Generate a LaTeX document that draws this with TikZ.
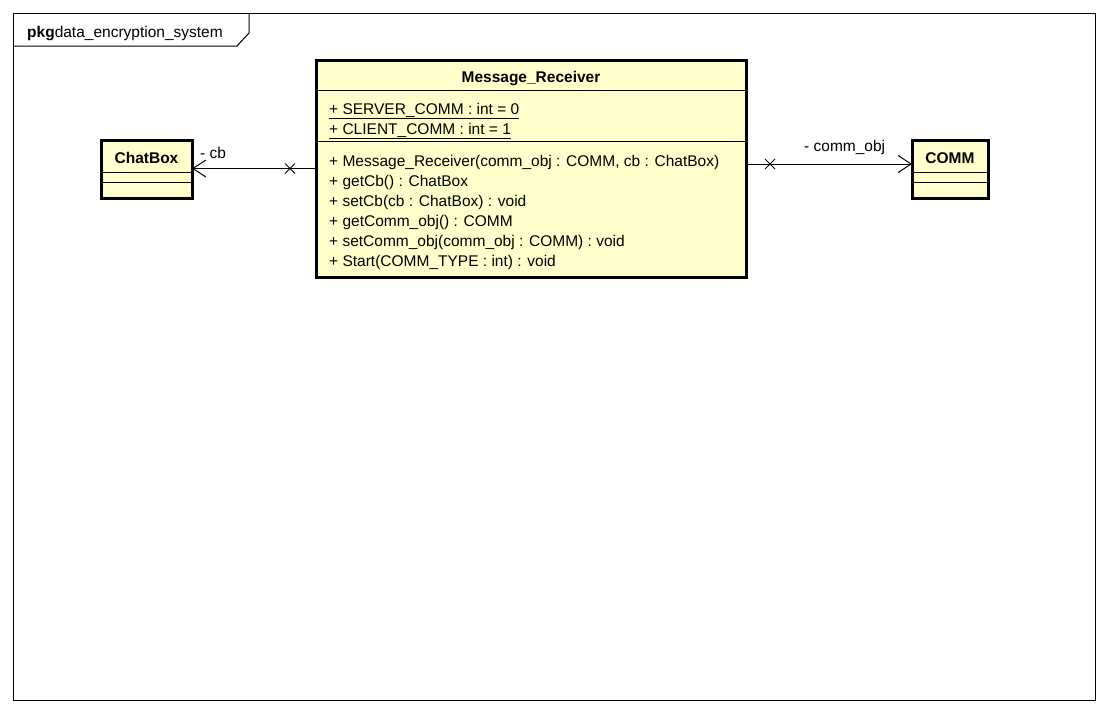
\documentclass[tikz,border=0pt]{standalone}
\usepackage{fontspec}
\setmainfont{Liberation Sans}
\usetikzlibrary{arrows.meta}
\definecolor{classfill}{RGB}{255,255,204}
\tikzset{
  classbox/.style={draw, line width=3pt, fill=classfill, inner sep=0pt, outer sep=0pt},
  sepline/.style={line width=1pt},
  txt/.style={inner sep=0pt, anchor=base west, font=\fontsize{15.5}{20}\selectfont},
  ttl/.style={inner sep=0pt, anchor=base, font=\fontsize{15.5}{20}\selectfont\bfseries},
  assoc/.style={line width=1pt, -{Straight Barb[length=13pt,width=17pt,line width=1pt]}},
  xmark/.style={line width=1pt},
}
\begin{document}
\begin{tikzpicture}[x=1pt,y=-1pt]
\useasboundingbox (0,0) rectangle (1109,713);
% package frame
\draw[line width=1pt] (13,13) rectangle (1095,700);
\draw[line width=1pt] (13,46) -- (237,46) -- (249,33) -- (249,13);
\node[txt] (pkgname) at (27,37) {\textbf{pkg}data\_encryption\_system};
% classes
\node[classbox, minimum width=430pt, minimum height=217pt] (mr) at (531,168.5) {};
\draw[sepline] (mr.west |- 0,90) -- (mr.east |- 0,90);
\draw[sepline] (mr.west |- 0,141) -- (mr.east |- 0,141);
\node[ttl] (mrt) at (531,82) {Message\_Receiver};
\node[txt] (a1) at (329,114) {\underline{+ SERVER\_COMM : int = 0}};
\node[txt] (a2) at (329,134) {\underline{+ CLIENT\_COMM : int = 1}};
\node[txt] (m1) at (329,166) {+ Message\_Receiver(comm\_obj : COMM, cb : ChatBox)};
\node[txt] (m2) at (329,186) {+ getCb() : ChatBox};
\node[txt] (m3) at (329,206) {+ setCb(cb : ChatBox) : void};
\node[txt] (m4) at (329,226) {+ getComm\_obj() : COMM};
\node[txt] (m5) at (329,246) {+ setComm\_obj(comm\_obj : COMM) : void};
\node[txt] (m6) at (329,266) {+ Start(COMM\_TYPE : int) : void};

\node[classbox, minimum width=91pt, minimum height=58pt] (cb) at (146.5,169) {};
\draw[sepline] (cb.west |- 0,172) -- (cb.east |- 0,172);
\draw[sepline] (cb.west |- 0,182) -- (cb.east |- 0,182);
\node[ttl] (cbt) at (146.5,163) {ChatBox};

\node[classbox, minimum width=76pt, minimum height=58pt] (comm) at (950,169) {};
\draw[sepline] (comm.west |- 0,172) -- (comm.east |- 0,172);
\draw[sepline] (comm.west |- 0,182) -- (comm.east |- 0,182);
\node[ttl] (commt) at (950,163) {COMM};

% associations
\draw[assoc] (mr.west) -- (cb.east |- mr.west);
\coordinate (x1) at (290,168.5);
\draw[xmark] ([shift={(-5pt,-5pt)}]x1) -- ([shift={(5pt,5pt)}]x1);
\draw[xmark] ([shift={(-5pt,5pt)}]x1) -- ([shift={(5pt,-5pt)}]x1);
\node[txt] (lcb) at (200,158) {- cb};

\draw[assoc] ([yshift=4.5pt]mr.east) -- ([yshift=5pt]comm.west);
\coordinate (x2) at (770,164);
\draw[xmark] ([shift={(-5pt,-5pt)}]x2) -- ([shift={(5pt,5pt)}]x2);
\draw[xmark] ([shift={(-5pt,5pt)}]x2) -- ([shift={(5pt,-5pt)}]x2);
\node[txt] (lcomm) at (804,151) {- comm\_obj};
\end{tikzpicture}
\end{document}
